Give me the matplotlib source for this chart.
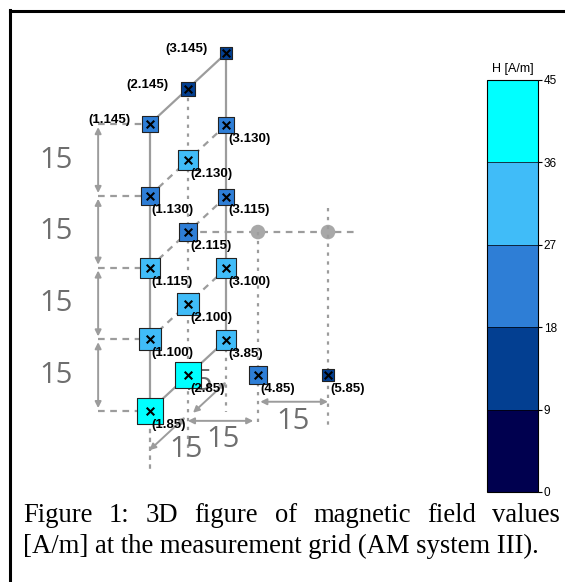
import matplotlib
matplotlib.use('Agg')
import matplotlib.pyplot as plt
import numpy as np
from matplotlib.colors import ListedColormap, BoundaryNorm
import matplotlib as mpl

W, H = 565, 582
DPI = 100

# ---------------- data ----------------
point_labels = ['(1.85)', '(2.85)', '(3.85)', '(4.85)', '(5.85)',
                '(1.100)', '(2.100)', '(3.100)',
                '(1.115)', '(2.115)', '(3.115)',
                '(1.130)', '(2.130)', '(3.130)',
                '(1.145)', '(2.145)', '(3.145)']
lateral_cm = [0, 0, 0, 15, 30, 0, 0, 0, 0, 0, 0, 0, 0, 0, 0, 0, 0]
depth_cm = [0, 15, 30, 15, 15, 0, 15, 30, 0, 15, 30, 0, 15, 30, 0, 15, 30]
height_cm = [85, 85, 85, 85, 85, 100, 100, 100, 115, 115, 115,
             130, 130, 130, 145, 145, 145]
H_values = [41, 41, 29, 23, 11, 32, 32, 29, 29, 24, 20, 22, 28, 20, 18.5, 15, 11]
label_above = [False] * 14 + [True, True, True]

cbar_bounds = [0, 9, 18, 27, 36, 45]
cbar_colors = ['#00004f', '#033f91', '#2e7ed6', '#40bcf8', '#00ffff']
cbar_title = 'H [A/m]'
dim_label = '15'
caption_line1 = ['Figure', '1:', '3D', 'figure', 'of', 'magnetic', 'field', 'values']
caption_line2 = '[A/m] at the measurement grid (AM system III).'


# ---------------- projection of the sketch grid (cm -> pixels) ----------------
def proj(x, d, h):
    sx = 149.5 + 4.67 * x + 2.56 * d
    sy = 411 - 4.78 * (h - 85) - 2.37 * d
    return sx, sy


fig = plt.figure(figsize=(W / DPI, H / DPI), dpi=DPI)
ax = fig.add_axes([0, 0, 1, 1])
ax.set_xlim(0, W)
ax.set_ylim(H, 0)
ax.axis('off')

gray = '#9c9c9c'
tgray = '#6e6e6e'


def seg(p, q, ls='-', lw=1.6, color=gray, z=1):
    ax.plot([p[0], q[0]], [p[1], q[1]], ls=ls, lw=lw, color=color, zorder=z,
            solid_capstyle='butt')


def darrow(p, q, color=gray, lw=1.4):
    ax.annotate('', xy=q, xytext=p,
                arrowprops=dict(arrowstyle='<|-|>', color=color, lw=lw,
                                shrinkA=0, shrinkB=0, mutation_scale=9),
                zorder=1)


heights = [85, 100, 115, 130, 145]
# column verticals
seg(proj(0, 0, 145), proj(0, 0, 85))
seg(proj(0, 0, 85), proj(0, 0, 72), ls=(0, (2, 2)))
seg(proj(0, 15, 145), proj(0, 15, 68), ls=(0, (1.5, 2.5)))
seg(proj(0, 30, 145), proj(0, 30, 85))
seg(proj(0, 30, 85), proj(0, 30, 70), ls=(0, (1.5, 2.5)))
# depth lines
for h in heights:
    style = '-' if h in (85, 145) else (0, (3, 2.5))
    seg(proj(0, 0, h), proj(0, 30, h), ls=style)
# left dimensioning
for h in heights:
    seg(proj(-11, 0, h), proj(0, 0, h), ls=(0, (3, 2.5)))
for h0, h1 in zip(heights[:-1], heights[1:]):
    darrow(proj(-11, 0, h0 + 0.6), proj(-11, 0, h1 - 0.6))
    sx, sy = proj(-20, 0, (h0 + h1) / 2)
    ax.text(sx, sy, dim_label, fontsize=21, family='Open Sans', color=tgray,
            ha='center', va='center', zorder=1)
# lateral line at 115 with gray dots
seg(proj(0, 15, 115), proj(36, 15, 115), ls=(0, (3, 2.5)))
for xl in (15, 30):
    sx, sy = proj(xl, 15, 115)
    ax.scatter([sx], [sy], s=110, color='#a8a8a8', zorder=1, edgecolors='none')
seg(proj(15, 15, 115), proj(15, 15, 75), ls=(0, (1.5, 2.5)))
seg(proj(30, 15, 120), proj(30, 15, 74), ls=(0, (1.5, 2.5)))
# bottom dimensioning
darrow(proj(0, 15, 75.5), proj(14, 15, 75.5))
darrow(proj(15.5, 15, 79.5), proj(30, 15, 79.5))
darrow(proj(0, 0, 76.8), proj(0, 14, 76.8))
darrow(proj(0, 17, 76.2), proj(0, 30, 76.2))
for (xl, d, h) in [(7.5, 15, 71.5), (22.5, 15, 75.3), (7.8, 0, 77), (0, 18, 82)]:
    sx, sy = proj(xl, d, h)
    ax.text(sx, sy, dim_label, fontsize=21, family='Open Sans', color=tgray,
            ha='center', va='center', zorder=1)

# ---------------- measurement markers ----------------
cmap = ListedColormap(cbar_colors)
norm = BoundaryNorm(cbar_bounds, cmap.N)
for lab, xl, d, h, v, above in zip(point_labels, lateral_cm, depth_cm, height_cm,
                                   H_values, label_above):
    sx, sy = proj(xl, d, h)
    side_px = 7 + 0.46 * v
    side_pt = side_px * 72 / DPI
    ax.scatter([sx], [sy], s=side_pt ** 2, marker='s', c=[v], cmap=cmap, norm=norm,
               edgecolors='#222222', linewidths=0.8, zorder=3)
    ax.scatter([sx], [sy], s=30, marker='x', color='black', linewidths=1.5, zorder=4)
    if above:
        ax.text(sx - 19, sy - 4, lab, fontsize=9.5, family='Liberation Sans',
                fontweight='bold', ha='right', va='center', zorder=5)
    else:
        ax.text(sx + 2, sy + 14, lab, fontsize=9.5, family='Liberation Sans',
                fontweight='bold', ha='left', va='center', zorder=5)

# ---------------- frame ----------------
ax.plot([9.5, 9.5], [582, 9.5], color='black', lw=2.2, solid_capstyle='projecting')
ax.plot([9.5, 565], [10.5, 10.5], color='black', lw=2.2, solid_capstyle='projecting')

# ---------------- caption ----------------
fs_cap = 19.2
y1, y2 = 515, 546
left, right = 23, 560
renderer = fig.canvas.get_renderer()
word_objs = []
total = 0
for w in caption_line1:
    t = ax.text(0, y1, w, fontsize=fs_cap, family='Liberation Serif', va='center', ha='left')
    bb = t.get_window_extent(renderer=renderer)
    word_objs.append((t, bb.width))
    total += bb.width
gap = (right - left - total) / (len(caption_line1) - 1)
xpos = left
for t, wd in word_objs:
    t.set_x(xpos)
    xpos += wd + gap
ax.text(left, y2, caption_line2, fontsize=fs_cap, family='Liberation Serif',
        va='center', ha='left')

# ---------------- colorbar ----------------
cax = fig.add_axes([487 / W, 1 - 492 / H, 51 / W, 412 / H])
cb = mpl.colorbar.ColorbarBase(cax, cmap=cmap, norm=norm, boundaries=cbar_bounds,
                               ticks=cbar_bounds, spacing='proportional')
cb.outline.set_linewidth(0.8)
cax.tick_params(direction='out', length=3, width=0.8, labelsize=8.5, pad=1)
for lbl in cax.get_yticklabels():
    lbl.set_family('Liberation Sans')
for yb in cbar_bounds[1:-1]:
    cax.axhline(yb, color='black', lw=0.5)
cax.set_title(cbar_title, fontsize=9, family='Liberation Sans', pad=6)

fig.savefig('out.png', dpi=DPI)
